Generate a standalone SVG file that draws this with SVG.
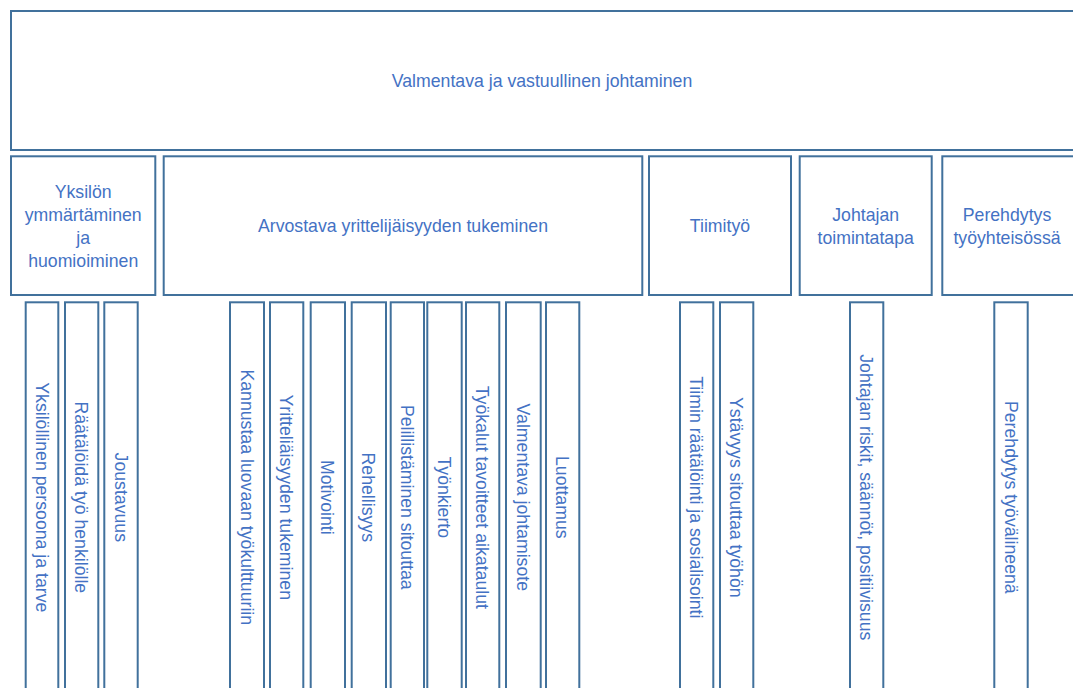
<svg xmlns="http://www.w3.org/2000/svg" width="1073" height="688" viewBox="0 0 1073 688">
<style>
.b{fill:#FFFFFF;stroke:#41719C;stroke-width:2}
.t{font-family:"Liberation Sans",Arial,sans-serif;font-size:17.7px;fill:#4472C4;text-anchor:middle}
</style>
<rect x="0" y="0" width="1073" height="688" fill="#FFFFFF"/>
<g id="top">
<rect class="b" x="11" y="11" width="1064" height="139"/>
<text class="t" x="542" y="86.5">Valmentava ja vastuullinen johtaminen</text>
</g>
<g id="cat1">
<rect class="b" x="11" y="156.3" width="144.3" height="138.7"/>
<text class="t" x="83.2" y="197.5">Yksilön</text>
<text class="t" x="83.2" y="220.8">ymmärtäminen</text>
<text class="t" x="83.2" y="244">ja</text>
<text class="t" x="83.2" y="267.2">huomioiminen</text>
</g>
<g id="cat2">
<rect class="b" x="163.7" y="156.3" width="478.6" height="138.7"/>
<text class="t" x="403" y="232.3">Arvostava yrittelijäisyyden tukeminen</text>
</g>
<g id="cat3">
<rect class="b" x="649" y="156.3" width="142" height="138.7"/>
<text class="t" x="720" y="232.3">Tiimityö</text>
</g>
<g id="cat4">
<rect class="b" x="799.7" y="156.3" width="132" height="138.7"/>
<text class="t" x="865.7" y="221">Johtajan</text>
<text class="t" x="865.7" y="243.5">toimintatapa</text>
</g>
<g id="cat5">
<rect class="b" x="942.3" y="156.3" width="140" height="138.7"/>
<text class="t" x="1007" y="221">Perehdytys</text>
<text class="t" x="1007" y="243.5">työyhteisössä</text>
</g>
<g id="c1"><rect class="b" x="25.7" y="302.3" width="32.6" height="392"/><text class="t" transform="translate(42,497.3) rotate(90)" x="0" y="6.3">Yksilöllinen persoona ja tarve</text></g>
<g id="c2"><rect class="b" x="65" y="302.3" width="33.3" height="392"/><text class="t" transform="translate(81.6,497.3) rotate(90)" x="0" y="6.3">Räätälöidä työ henkilölle</text></g>
<g id="c3"><rect class="b" x="104.3" y="302.3" width="33.4" height="392"/><text class="t" transform="translate(121,497.3) rotate(90)" x="0" y="6.3">Joustavuus</text></g>
<g id="c4"><rect class="b" x="230" y="302.3" width="34" height="392"/><text class="t" transform="translate(247,497.3) rotate(90)" x="0" y="6.3">Kannustaa luovaan työkulttuuriin</text></g>
<g id="c5"><rect class="b" x="270" y="302.3" width="33.3" height="392"/><text class="t" transform="translate(286.6,497.3) rotate(90)" x="0" y="6.3">Yritteliäisyyden tukeminen</text></g>
<g id="c6"><rect class="b" x="310.7" y="302.3" width="34.3" height="392"/><text class="t" transform="translate(327.8,497.3) rotate(90)" x="0" y="6.3">Motivointi</text></g>
<g id="c7"><rect class="b" x="351.7" y="302.3" width="34.3" height="392"/><text class="t" transform="translate(368.8,497.3) rotate(90)" x="0" y="6.3">Rehellisyys</text></g>
<g id="c8"><rect class="b" x="390.7" y="302.3" width="33.3" height="392"/><text class="t" transform="translate(407.3,497.3) rotate(90)" x="0" y="6.3">Pelillistäminen sitouttaa</text></g>
<g id="c9"><rect class="b" x="427.3" y="302.3" width="34.4" height="392"/><text class="t" transform="translate(444.5,497.3) rotate(90)" x="0" y="6.3">Työnkierto</text></g>
<g id="c10"><rect class="b" x="466" y="302.3" width="33.3" height="392"/><text class="t" transform="translate(482.6,497.3) rotate(90)" x="0" y="6.3">Työkalut tavoitteet aikataulut</text></g>
<g id="c11"><rect class="b" x="506" y="302.3" width="34.7" height="392"/><text class="t" transform="translate(523.3,497.3) rotate(90)" x="0" y="6.3">Valmentava johtamisote</text></g>
<g id="c12"><rect class="b" x="546" y="302.3" width="33.3" height="392"/><text class="t" transform="translate(562.6,497.3) rotate(90)" x="0" y="6.3">Luottamus</text></g>
<g id="c13"><rect class="b" x="680" y="302.3" width="33.3" height="392"/><text class="t" transform="translate(696.6,497.3) rotate(90)" x="0" y="6.3">Tiimin räätälöinti ja sosialisointi</text></g>
<g id="c14"><rect class="b" x="720" y="302.3" width="33.3" height="392"/><text class="t" transform="translate(736.6,497.3) rotate(90)" x="0" y="6.3">Ystävyys sitouttaa työhön</text></g>
<g id="c15"><rect class="b" x="850" y="302.3" width="33.3" height="392"/><text class="t" transform="translate(866.6,497.3) rotate(90)" x="0" y="6.3">Johtajan riskit, säännöt, positiivisuus</text></g>
<g id="c16"><rect class="b" x="994.3" y="302.3" width="33.4" height="392"/><text class="t" transform="translate(1011,497.3) rotate(90)" x="0" y="6.3">Perehdytys työvälineenä</text></g>
<g id="connectors"></g>
</svg>
